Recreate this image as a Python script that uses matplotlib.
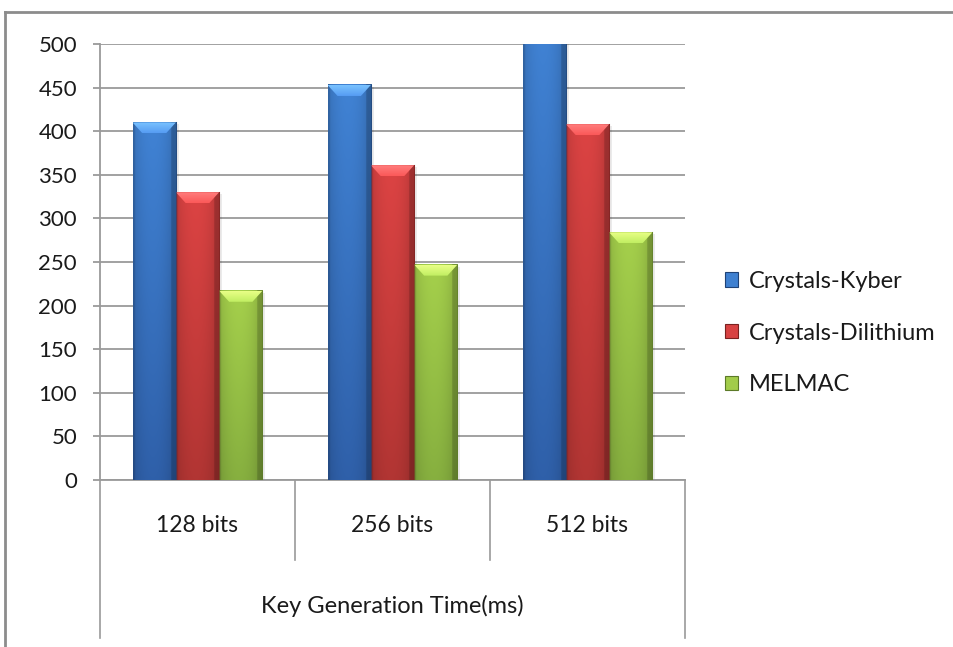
import numpy as np
import matplotlib.pyplot as plt
from matplotlib.colors import to_rgb
from matplotlib.patches import Polygon
from matplotlib.lines import Line2D
import matplotlib.transforms as mtransforms

plt.rcParams['font.family'] = ['Lato', 'DejaVu Sans']

# key generation time (ms) per key size
categories = ["128 bits", "256 bits", "512 bits"]
kyber = [410, 453, 515]
dilithium = [330, 361, 408]
melmac = [217, 247, 284]
series_names = ["Crystals-Kyber", "Crystals-Dilithium", "MELMAC"]
axis_title = "Key Generation Time(ms)"

top_colors = ["#3f80d0", "#d84242", "#a2cc4a"]
bottom_colors = ["#2e5ea6", "#ae3432", "#84ac3e"]
edge_colors = ["#1f4276", "#7a2220", "#5c7a28"]


def shaded_image(top, bottom, ny=200, nx=60):
    """Vertical blend top->bottom times a horizontal 'cylinder' shading"""
    top = np.array(to_rgb(top))
    bottom = np.array(to_rgb(bottom))
    v = np.linspace(0, 1, ny)[:, None, None]
    base = top * (1 - v) + bottom * v
    t = np.linspace(0, 1, nx)
    prof = 0.86 + 0.16 * np.sin(np.pi * np.clip(t * 1.1, 0, 1)) ** 0.6
    prof[t > 0.88] *= 0.85
    prof[t < 0.04] *= 0.9
    img = base * prof[None, :, None]
    return np.clip(img, 0, 1)


def bevel_image(col, ny=30):
    """Light gradient for the top bevel, brightest at the very top"""
    c = np.array(to_rgb(col))
    light = np.clip(c * 1.12 + 0.2, 0, 1)
    low = np.clip(c * 1.08 + 0.07, 0, 1)
    v = np.linspace(0, 1, ny)[:, None, None]
    img = light * (1 - v) + low * v
    return np.repeat(img, 4, axis=1)


fig = plt.figure(figsize=(9.54, 6.47), dpi=100)
ax = fig.add_axes([100 / 954, 1 - 480 / 647, 585 / 954, 436 / 647])

n = len(categories)
x = np.arange(n)
w = 0.222
data = [kyber, dilithium, melmac]
px_y = 500 / 436  # data units per pixel (vertical)
px_x = 3 / 585    # data units per pixel (horizontal)

for k, vals in enumerate(data):
    xs = x + (k - 1) * w
    bars = ax.bar(xs, vals, w, color=top_colors[k], edgecolor='none',
                  zorder=3, label=series_names[k])
    img = shaded_image(top_colors[k], bottom_colors[k])
    bimg = bevel_image(top_colors[k])
    for b, xi, val in zip(bars, xs, vals):
        x0, x1 = xi - w / 2, xi + w / 2
        # soft shadow to the right
        ax.add_patch(plt.Rectangle((x1, 0), 3 * px_x, val - 2 * px_y,
                                   color='#000000', alpha=0.08, lw=0, zorder=2))
        im = ax.imshow(img, extent=[x0, x1, 0, val], aspect='auto',
                       zorder=3.5, interpolation='bilinear')
        im.set_clip_path(b)
        im.set_clip_box(ax.bbox)
        # top bevel
        bh = 11 * px_y
        bi = 10 * px_x
        bev = Polygon([[x0, val], [x1, val], [x1 - bi, val - bh], [x0 + bi, val - bh]],
                      closed=True, facecolor='none', lw=0, zorder=4)
        ax.add_patch(bev)
        bim = ax.imshow(bimg, extent=[x0, x1, val - bh, val], aspect='auto',
                        zorder=4, interpolation='bilinear')
        bim.set_clip_path(bev)
        bim.set_clip_box(ax.bbox)
        ax.plot([x1, x1], [0, val], color=edge_colors[k], lw=0.8, alpha=0.6, zorder=4.5)

ax.set_xlim(-0.5, n - 0.5)
ax.set_ylim(0, 500)
ax.set_yticks(np.arange(0, 501, 50))
ax.yaxis.grid(True, color='#9a9a9a', lw=1.3, zorder=0)
ax.set_axisbelow(True)
for s in ['top', 'right']:
    ax.spines[s].set_visible(False)
ax.spines['left'].set_color('#9a9a9a')
ax.spines['left'].set_linewidth(1.3)
ax.spines['bottom'].set_color('#9a9a9a')
ax.spines['bottom'].set_linewidth(1.3)
ax.tick_params(axis='y', length=5, width=1.3, color='#9a9a9a', labelsize=16,
               pad=11.5, labelcolor='#1a1a1a')
ax.set_xticks([])

# two-level category axis
tr = mtransforms.blended_transform_factory(ax.transData, ax.transAxes)
ax_h = 436
for i, c in enumerate(categories):
    ax.text(x[i], -46 / ax_h, c, transform=tr, ha='center', va='center',
            fontsize=16.5, color='#1a1a1a')
for xb in [0.5, 1.5]:
    ax.add_line(Line2D([xb, xb], [0, -80 / ax_h], transform=tr, color='#9a9a9a',
                       lw=1.2, clip_on=False))
for xb in [-0.5, 2.5]:
    ax.add_line(Line2D([xb, xb], [0, -158 / ax_h], transform=tr, color='#9a9a9a',
                       lw=1.2, clip_on=False))
ax.text(1, -126 / ax_h, axis_title, transform=tr, ha='center', va='center',
        fontsize=17, color='#1a1a1a')

# legend
handles = [plt.Rectangle((0, 0), 1, 1, facecolor=top_colors[k], edgecolor=edge_colors[k], lw=0.8)
           for k in range(3)]
fig.legend(handles, series_names, loc='center left', bbox_to_anchor=(718 / 954, 1 - 333 / 647),
           frameon=False, fontsize=17, handlelength=0.55, handleheight=0.55,
           handletextpad=0.45, labelspacing=1.3, labelcolor='#1a1a1a',
           borderaxespad=0, borderpad=0.3)

# outer frame
fig.add_artist(Line2D([5 / 954, 5 / 954], [0, 1 - 12 / 647], color='#8c8c8c', lw=2))
fig.add_artist(Line2D([5 / 954, 1], [1 - 12 / 647, 1 - 12 / 647], color='#8c8c8c', lw=2))

fig.savefig('out.png', dpi=100)
